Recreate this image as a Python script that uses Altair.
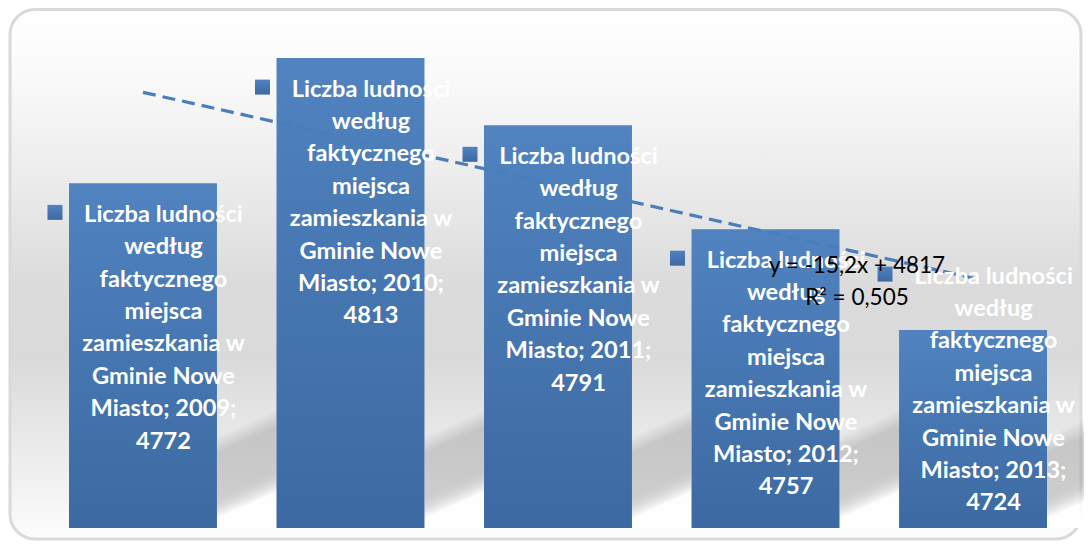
import altair as alt
import pandas as pd

# ---- data ----
years = [2009, 2010, 2011, 2012, 2013]
values = [4772, 4813, 4791, 4757, 4724]
label_head = ["Liczba ludności", "według", "faktycznego", "miejsca",
              "zamieszkania w", "Gminie Nowe"]
label_place = "Miasto"
equation_lines = ["y = -15,2x + 4817", "R² = 0,505"]

labels = ["|".join(label_head + [f"{label_place}; {y};", f"{v}"])
          for y, v in zip(years, values)]
df = pd.DataFrame({"year": years, "value": values, "label": labels})
eq_df = pd.DataFrame({"eq": ["|".join(equation_lines)]})
one = pd.DataFrame({"a": [0]})

# ---- scales ----
Y_DOMAIN = [4659.2, 4829.4]
LABEL_FLOOR = 4751.8  # labels of short bars are pushed up to stay inside the plot
xs = alt.Scale(type="band", range=[61, 1039], paddingInner=0.287, paddingOuter=0)
ys = alt.Scale(domain=Y_DOMAIN, range=[520, 0], zero=False, nice=False)

bar_grad = alt.LinearGradient(
    gradient="linear", x1=0, y1=0, x2=0, y2=1,
    stops=[alt.GradientStop(color="#5083c0", offset=0),
           alt.GradientStop(color="#3c69a1", offset=1)])

bg_grad = alt.LinearGradient(
    gradient="linear", x1=0, y1=0, x2=0, y2=1,
    stops=[alt.GradientStop(color="#ffffff", offset=0),
           alt.GradientStop(color="#fafafa", offset=0.12),
           alt.GradientStop(color="#ebebeb", offset=0.33),
           alt.GradientStop(color="#dbdbdb", offset=0.52),
           alt.GradientStop(color="#dadada", offset=0.66),
           alt.GradientStop(color="#e6e6e6", offset=0.78),
           alt.GradientStop(color="#f4f4f4", offset=0.92),
           alt.GradientStop(color="#fdfdfd", offset=1)])

shadow_grad = alt.LinearGradient(
    gradient="linear", x1=0, y1=0, x2=0.22, y2=1,
    stops=[alt.GradientStop(color="rgba(150,150,150,0)", offset=0),
           alt.GradientStop(color="rgba(150,150,150,0)", offset=0.22),
           alt.GradientStop(color="rgba(150,150,150,0.42)", offset=0.36),
           alt.GradientStop(color="rgba(150,150,150,0.42)", offset=0.7),
           alt.GradientStop(color="rgba(255,255,255,0.85)", offset=0.88),
           alt.GradientStop(color="rgba(255,255,255,1)", offset=1)])

background = alt.Chart(one).mark_rect(
    color=bg_grad, cornerRadius=25, stroke="#d9d9d9", strokeWidth=3
).encode(x=alt.value(2), x2=alt.value(1073), y=alt.value(1.5), y2=alt.value(531))

base = alt.Chart(df)

shadows = base.mark_rect(color=shadow_grad, width=59.5, xOffset=103.75).encode(
    x=alt.X("year:O", scale=xs, axis=None),
    y=alt.value(400), y2=alt.value(520))

bars = base.mark_bar(color=bar_grad).encode(
    x=alt.X("year:O", scale=xs, axis=None),
    y=alt.Y("value:Q", scale=ys, axis=None),
    y2=alt.datum(Y_DOMAIN[0]))

trend = base.transform_regression("year", "value").mark_line(
    color="#4a7ebb", strokeWidth=3.2, strokeDash=[13, 7]
).encode(
    x=alt.X("year:O", scale=xs, axis=None),
    y=alt.Y("value:Q", scale=ys, axis=None))

lab = base.transform_calculate(
    label_y=f"max(datum.value, {LABEL_FLOOR})",
    lines="split(datum.label, '|')")

markers = lab.mark_square(color=bar_grad, size=225, opacity=1,
                          xOffset=-88, yOffset=29).encode(
    x=alt.X("year:O", scale=xs, axis=None),
    y=alt.Y("label_y:Q", scale=ys, axis=None))

texts = lab.mark_text(align="center", baseline="alphabetic", font="Lato",
                      fontWeight="bold", fontSize=23.6, color="white",
                      lineHeight=32.4, xOffset=20.5, yOffset=38.5).encode(
    x=alt.X("year:O", scale=xs, axis=None),
    y=alt.Y("label_y:Q", scale=ys, axis=None),
    text="lines:N")

equation = alt.Chart(eq_df).transform_calculate(
    lines="split(datum.eq, '|')"
).mark_text(align="center", baseline="alphabetic", font="Lato",
            fontSize=22.5, color="black", lineHeight=32).encode(
    x=alt.value(849), y=alt.value(265), text="lines:N")

chart = alt.layer(background, shadows, bars, trend, markers, texts, equation).properties(
    width=1076, height=534, padding=0,
    autosize=alt.AutoSizeParams(type="none")
).configure_view(stroke=None)

chart.save("out.html", embed_options={"renderer": "svg", "actions": False})
